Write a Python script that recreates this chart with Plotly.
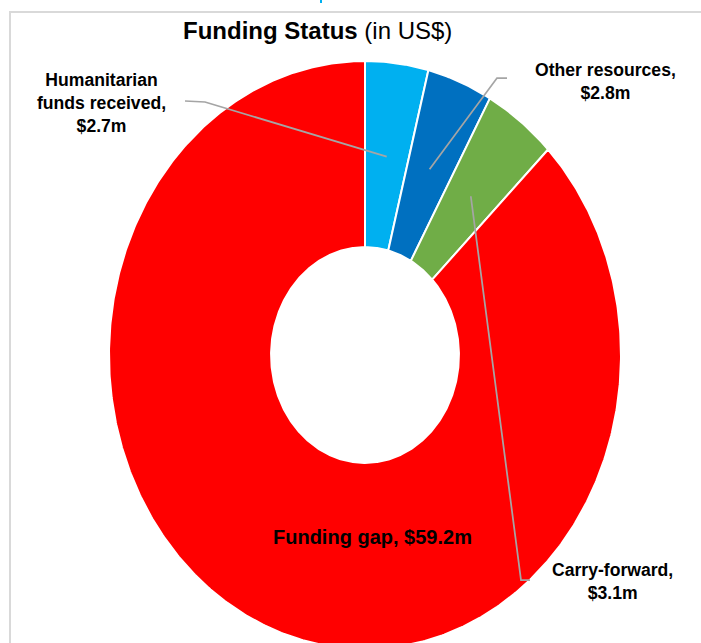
import numpy as np
import plotly.graph_objects as go

# ---- data ----
categories = ["Humanitarian funds received", "Other resources", "Carry-forward", "Funding gap"]
values = [2.7, 2.8, 3.1, 59.2]
label_texts = [
    "Humanitarian<br>funds received,<br>$2.7m",
    "Other resources,<br>$2.8m",
    "Carry-forward,<br>$3.1m",
    "Funding gap, $59.2m",
]
colors = ["#00B0F0", "#0070C0", "#70AD47", "#FF0000"]

# ---- layout geometry (pixels) ----
W, H = 701, 643
CX, CY = 365, 355      # centre of the (stretched) donut
RX, RY = 256, 294      # horizontal / vertical outer radius
HOLE = 0.367
FONT = "Liberation Sans, Arial, sans-serif"


def px(x, y):
    """pixel position -> data coordinates"""
    return (x - CX) / RX, (CY - y) / RY


def pt(angle_deg, r):
    a = np.radians(angle_deg)
    return r * np.sin(a), r * np.cos(a)


vals = np.array(values, dtype=float)
cum = np.concatenate([[0], np.cumsum(vals)]) / vals.sum() * 360.0

fig = go.Figure()
for i, cat in enumerate(categories):
    a0, a1 = cum[i], cum[i + 1]
    n = max(int((a1 - a0) * 2), 8)
    t = np.linspace(a0, a1, n)
    ox, oy = pt(t, 1.0)
    ix, iy = pt(t[::-1], HOLE)
    xs = np.concatenate([ox, ix, ox[:1]])
    ys = np.concatenate([oy, iy, oy[:1]])
    fig.add_trace(go.Scatter(
        x=xs, y=ys, fill="toself", fillcolor=colors[i], mode="lines",
        line=dict(color="white", width=2), name=cat, hoverinfo="name",
        showlegend=False,
    ))

# ---- leader lines (start at slice mid angle) ----
leader_ends = {
    0: [(205, 102), (185, 101)],
    1: [(497, 78), (507, 78)],
    2: [(521, 580), (530, 580)],
}
for i, ends in leader_ends.items():
    mid = (cum[i] + cum[i + 1]) / 2
    sx, sy = pt(mid, 0.68)
    xs = [sx] + [px(*e)[0] for e in ends]
    ys = [sy] + [px(*e)[1] for e in ends]
    fig.add_trace(go.Scatter(x=xs, y=ys, mode="lines",
                             line=dict(color="#A5A5A5", width=1.75),
                             hoverinfo="skip", showlegend=False))

# ---- labels ----
label_pos = [(101, 103), (605, 81), (612, 581), (372, 537)]
label_size = [17.6, 17.6, 17.6, 20]
annotations = []
for txt, (lx, ly), sz in zip(label_texts, label_pos, label_size):
    x, y = px(lx, ly)
    annotations.append(dict(
        x=x, y=y, xref="x", yref="y", text="<b>" + txt + "</b>",
        showarrow=False, align="center", xanchor="center", yanchor="middle",
        font=dict(family=FONT, size=sz, color="black"),
    ))
annotations.append(dict(
    x=317 / W, y=1 - 30 / H, xref="paper", yref="paper",
    text="<b>Funding Status</b> (in US$)", showarrow=False,
    xanchor="center", yanchor="middle",
    font=dict(family=FONT, size=24, color="black"),
))

shapes = [
    dict(type="line", xref="paper", yref="paper", x0=9 / W, x1=1, y0=1 - 12 / H, y1=1 - 12 / H,
         line=dict(color="#D9D9D9", width=2)),
    dict(type="line", xref="paper", yref="paper", x0=10 / W, x1=10 / W, y0=1 - 12 / H, y1=0,
         line=dict(color="#D9D9D9", width=2)),
    dict(type="line", xref="paper", yref="paper", x0=321 / W, x1=321 / W, y0=1, y1=1 - 3 / H,
         line=dict(color="#00B0F0", width=2)),
]

fig.update_layout(
    width=W, height=H, margin=dict(l=0, r=0, t=0, b=0),
    paper_bgcolor="white", plot_bgcolor="white",
    xaxis=dict(range=[(0 - CX) / RX, (W - CX) / RX], visible=False, fixedrange=True),
    yaxis=dict(range=[(CY - H) / RY, CY / RY], visible=False, fixedrange=True),
    annotations=annotations, shapes=shapes, showlegend=False,
)

fig.write_html("out.html")
